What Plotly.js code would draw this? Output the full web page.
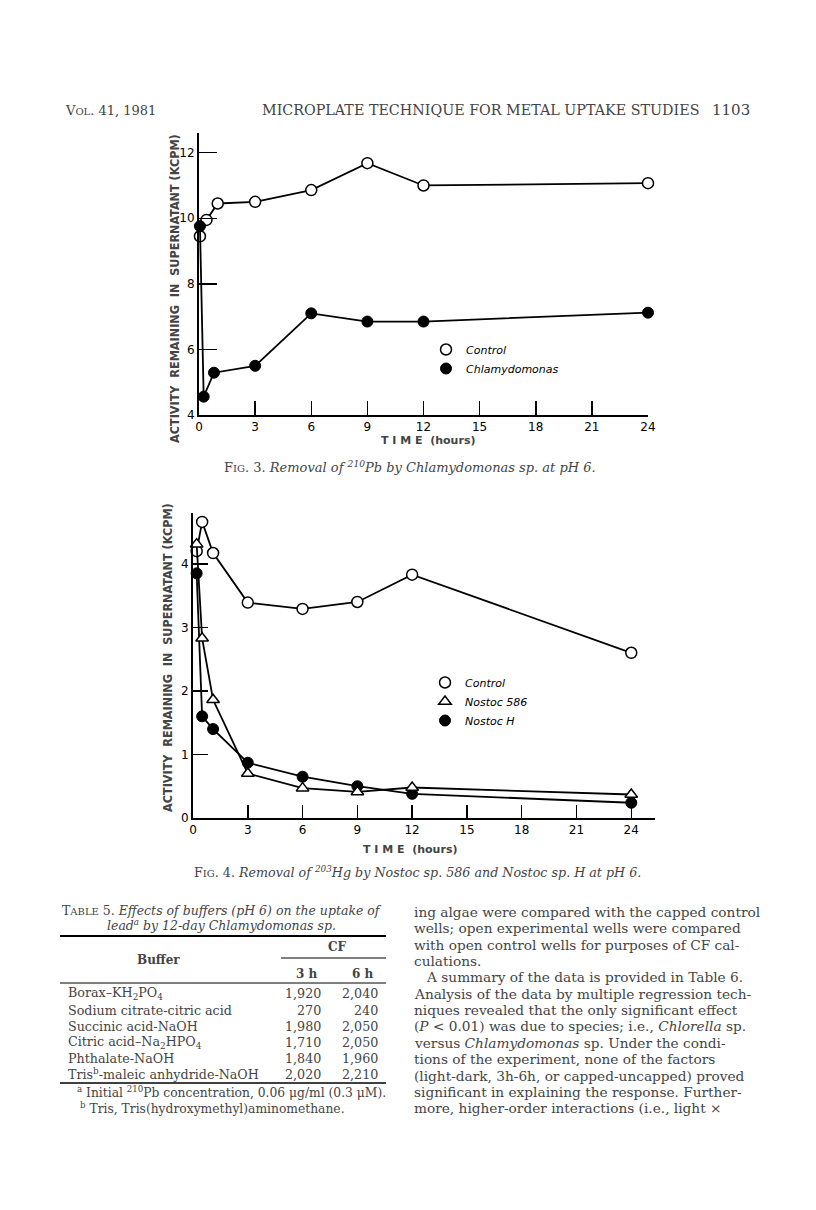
<!DOCTYPE html>
<html>
<head>
<meta charset="utf-8">
<script src="https://cdn.plot.ly/plotly-3.0.1.min.js"></script>
<style>
  body { margin: 0; background: #fff; }
  #page { width: 816px; height: 1210px; }
</style>
</head>
<body>
<div id="page"></div>
<script>
// Fig. 3 - 210Pb removal by Chlamydomonas (activity, kcpm)
var pbTimeControl = [0.05, 0.4, 1, 3, 6, 9, 12, 24];
var pbControl = [9.45, 9.95, 10.45, 10.5, 10.86, 11.68, 11.0, 11.07];
var pbTimeChlamy = [0.05, 0.25, 0.8, 3, 6, 9, 12, 24];
var pbChlamy = [9.76, 4.56, 5.29, 5.5, 7.1, 6.85, 6.85, 7.12];

// Fig. 4 - 203Hg removal by Nostoc sp.
var hgTime = [0.2, 0.5, 1.1, 3, 6, 9, 12, 24];
var hgControl = [4.2, 4.66, 4.17, 3.39, 3.29, 3.4, 3.83, 2.6];
var hgNostoc586 = [4.31, 2.83, 1.86, 0.7, 0.47, 0.41, 0.48, 0.37];
var hgNostocH = [3.85, 1.6, 1.4, 0.87, 0.65, 0.5, 0.38, 0.24];

var timeTicks = [0, 3, 6, 9, 12, 15, 18, 21, 24];
var pbTicks = [4, 6, 8, 10, 12];
var hgTicks = [0, 1, 2, 3, 4];

// Table 5
var buffers = ['Borax–KH<sub>2</sub>PO<sub>4</sub>', 'Sodium citrate-citric acid', 'Succinic acid-NaOH',
  'Citric acid–Na<sub>2</sub>HPO<sub>4</sub>', 'Phthalate-NaOH', 'Tris<sup>b</sup>-maleic anhydride-NaOH'];
var cf3h = ['1,920', '270', '1,980', '1,710', '1,840', '2,020'];
var cf6h = ['2,040', '240', '2,050', '2,050', '1,960', '2,210'];

var bodyLines = [
  'ing algae were compared with the capped control',
  'wells; open experimental wells were compared',
  'with open control wells for purposes of CF cal-',
  'culations.',
  '   A summary of the data is provided in Table 6.',
  'Analysis of the data by multiple regression tech-',
  'niques revealed that the only significant effect',
  '(<i>P</i> < 0.01) was due to species; i.e., <i>Chlorella</i> sp.',
  'versus <i>Chlamydomonas</i> sp. Under the condi-',
  'tions of the experiment, none of the factors',
  '(light-dark, 3h-6h, or capped-uncapped) proved',
  'significant in explaining the response. Further-',
  'more, higher-order interactions (i.e., light ×'
];

var W = 816, H = 1210;
function px(x) { return x / W; }
function py(y) { return 1 - y / H; }

var serif = 'DejaVu Serif, Liberation Serif, serif';
var sans = 'DejaVu Sans, Liberation Sans, sans-serif';
var cond = 'DejaVu Sans Condensed, Liberation Sans Narrow, DejaVu Sans, sans-serif';

var openCircle = {symbol: 'circle', size: 11, color: 'white', line: {color: 'black', width: 1.5}};
var fullCircle = {symbol: 'circle', size: 11, color: 'black', line: {color: 'black', width: 1}};
var openTri = {symbol: 'triangle-up', size: 11, color: 'white', line: {color: 'black', width: 1.5}};

var ln = {color: 'black', width: 1.8};

var data = [
  {x: pbTimeControl, y: pbControl, mode: 'lines+markers', type: 'scatter', line: ln, marker: openCircle,
   cliponaxis: false, showlegend: false, xaxis: 'x', yaxis: 'y'},
  {x: pbTimeChlamy, y: pbChlamy, mode: 'lines+markers', type: 'scatter', line: ln, marker: fullCircle,
   cliponaxis: false, showlegend: false, xaxis: 'x', yaxis: 'y'},
  {x: hgTime, y: hgControl, mode: 'lines+markers', type: 'scatter', line: ln, marker: openCircle,
   cliponaxis: false, showlegend: false, xaxis: 'x2', yaxis: 'y2'},
  {x: hgTime, y: hgNostocH, mode: 'lines+markers', type: 'scatter', line: ln, marker: fullCircle,
   cliponaxis: false, showlegend: false, xaxis: 'x2', yaxis: 'y2'},
  {x: hgTime, y: hgNostoc586, mode: 'lines+markers', type: 'scatter', line: ln, marker: openTri,
   cliponaxis: false, showlegend: false, xaxis: 'x2', yaxis: 'y2'},
  // legend keys (marker only, as in the figure)
  {x: [null], y: [null], mode: 'markers', name: 'Control', marker: openCircle, legend: 'legend', xaxis: 'x', yaxis: 'y'},
  {x: [null], y: [null], mode: 'markers', name: 'Chlamydomonas', marker: fullCircle, legend: 'legend', xaxis: 'x', yaxis: 'y'},
  {x: [null], y: [null], mode: 'markers', name: 'Control', marker: openCircle, legend: 'legend2', xaxis: 'x2', yaxis: 'y2'},
  {x: [null], y: [null], mode: 'markers', name: 'Nostoc 586', marker: openTri, legend: 'legend2', xaxis: 'x2', yaxis: 'y2'},
  {x: [null], y: [null], mode: 'markers', name: 'Nostoc H', marker: fullCircle, legend: 'legend2', xaxis: 'x2', yaxis: 'y2'}
];

function axis(extra) {
  var a = {showline: true, linecolor: 'black', linewidth: 2, ticks: 'inside', tickcolor: 'black',
    tickwidth: 1.5, showgrid: false, zeroline: false, fixedrange: true,
    tickfont: {family: sans, size: 12, color: 'black'}};
  for (var k in extra) a[k] = extra[k];
  return a;
}

var legendFont = {family: sans, size: 11, color: 'black', style: 'italic'};

var ann = [];
function txt(x, y, text, opt) {
  var a = {xref: 'paper', yref: 'paper', x: px(x), y: py(y), text: text, showarrow: false,
    xanchor: 'left', yanchor: 'middle', font: {family: serif, size: 13, color: 'black'}};
  for (var k in opt) a[k] = opt[k];
  ann.push(a);
}

// page header
txt(63, 110, 'V<span style="font-size:10px">OL</span>. 41, 1981', {font: {family: serif, size: 13}});
txt(260, 110, 'MICROPLATE TECHNIQUE FOR METAL UPTAKE STUDIES', {font: {family: serif, size: 14.3}});
txt(752, 110, '1103', {xanchor: 'right', font: {family: serif, size: 15}});

// axis titles
var ytitle = 'ACTIVITY  REMAINING  IN  SUPERNATANT (KCPM)';
txt(174, 289, '<b>' + ytitle + '</b>', {xanchor: 'center', textangle: -90, font: {family: cond, size: 12.5}});
txt(167, 658, '<b>' + ytitle + '</b>', {xanchor: 'center', textangle: -90, font: {family: cond, size: 12.5}});
txt(428, 440, '<b>T I M E  (hours)</b>', {xanchor: 'center', font: {family: sans, size: 11}});
txt(410, 849, '<b>T I M E  (hours)</b>', {xanchor: 'center', font: {family: sans, size: 11}});

// figure captions
txt(410, 467, 'F<span style="font-size:10px">IG</span>. 3. <i>Removal of <sup>210</sup>Pb by Chlamydomonas sp. at pH 6.</i>',
  {xanchor: 'center', font: {family: serif, size: 13}});
txt(418, 872, 'F<span style="font-size:10px">IG</span>. 4. <i>Removal of <sup>203</sup>Hg by Nostoc sp. 586 and Nostoc sp. H at pH 6.</i>',
  {xanchor: 'center', font: {family: serif, size: 12.7}});

// table 5
txt(222, 910, 'T<span style="font-size:10px">ABLE</span> 5. <i>Effects of buffers (pH 6) on the uptake of</i>', {xanchor: 'center', font: {family: serif, size: 12.5}});
txt(222, 925, '<i>lead<sup>a</sup> by 12-day Chlamydomonas sp.</i>', {xanchor: 'center', font: {family: serif, size: 12.5}});
txt(337, 947, '<b>CF</b>', {xanchor: 'center', font: {family: serif, size: 12}});
txt(158, 960, '<b>Buffer</b>', {xanchor: 'center', font: {family: serif, size: 12}});
txt(307, 974, '<b>3 h</b>', {xanchor: 'center', font: {family: serif, size: 12}});
txt(363, 974, '<b>6 h</b>', {xanchor: 'center', font: {family: serif, size: 12}});
for (var i = 0; i < buffers.length; i++) {
  var ry = 994 + i * 16;
  txt(66, ry, buffers[i], {font: {family: serif, size: 12.7}});
  txt(323, ry, cf3h[i], {xanchor: 'right', font: {family: serif, size: 12.7}});
  txt(380, ry, cf6h[i], {xanchor: 'right', font: {family: serif, size: 12.7}});
}
txt(75, 1092, '<sup>a</sup> Initial <sup>210</sup>Pb concentration, 0.06 μg/ml (0.3 μM).', {font: {family: serif, size: 12.3}});
txt(78, 1108, '<sup>b</sup> Tris, Tris(hydroxymethyl)aminomethane.', {font: {family: serif, size: 12.3}});

// running text, right column
for (var j = 0; j < bodyLines.length; j++) {
  txt(412, 912 + j * 16.35, bodyLines[j], {font: {family: serif, size: 13.7}});
}

function rule(x0, x1, y, w) {
  return {type: 'line', xref: 'paper', yref: 'paper', x0: px(x0), x1: px(x1), y0: py(y), y1: py(y),
    line: {color: 'black', width: w}};
}

var layout = {
  width: W, height: H,
  margin: {l: 0, r: 0, t: 0, b: 0},
  paper_bgcolor: 'white', plot_bgcolor: 'rgba(0,0,0,0)',
  showlegend: true,
  xaxis: axis({domain: [px(199), px(648)], range: [0, 24], anchor: 'y', tickvals: timeTicks, ticklen: 14}),
  yaxis: axis({domain: [py(415), py(133)], range: [4, 12.6], anchor: 'x', tickvals: pbTicks, ticklen: 18}),
  xaxis2: axis({domain: [px(193), px(655)], range: [0, 25.3], anchor: 'y2', tickvals: timeTicks, ticklen: 13}),
  yaxis2: axis({domain: [py(818), py(513)], range: [0, 4.8], anchor: 'x2', tickvals: hgTicks, ticklen: 15}),
  legend: {x: px(426), y: py(335), xanchor: 'left', yanchor: 'top', bgcolor: 'rgba(0,0,0,0)',
    font: legendFont, tracegroupgap: 0},
  legend2: {x: px(425), y: py(668), xanchor: 'left', yanchor: 'top', bgcolor: 'rgba(0,0,0,0)',
    font: legendFont, tracegroupgap: 0},
  annotations: ann,
  shapes: [rule(60, 386, 936, 2), rule(281, 386, 958, 1), rule(60, 386, 983, 1), rule(60, 386, 1083, 1.5)]
};

Plotly.newPlot('page', data, layout, {staticPlot: true});
</script>
</body>
</html>
